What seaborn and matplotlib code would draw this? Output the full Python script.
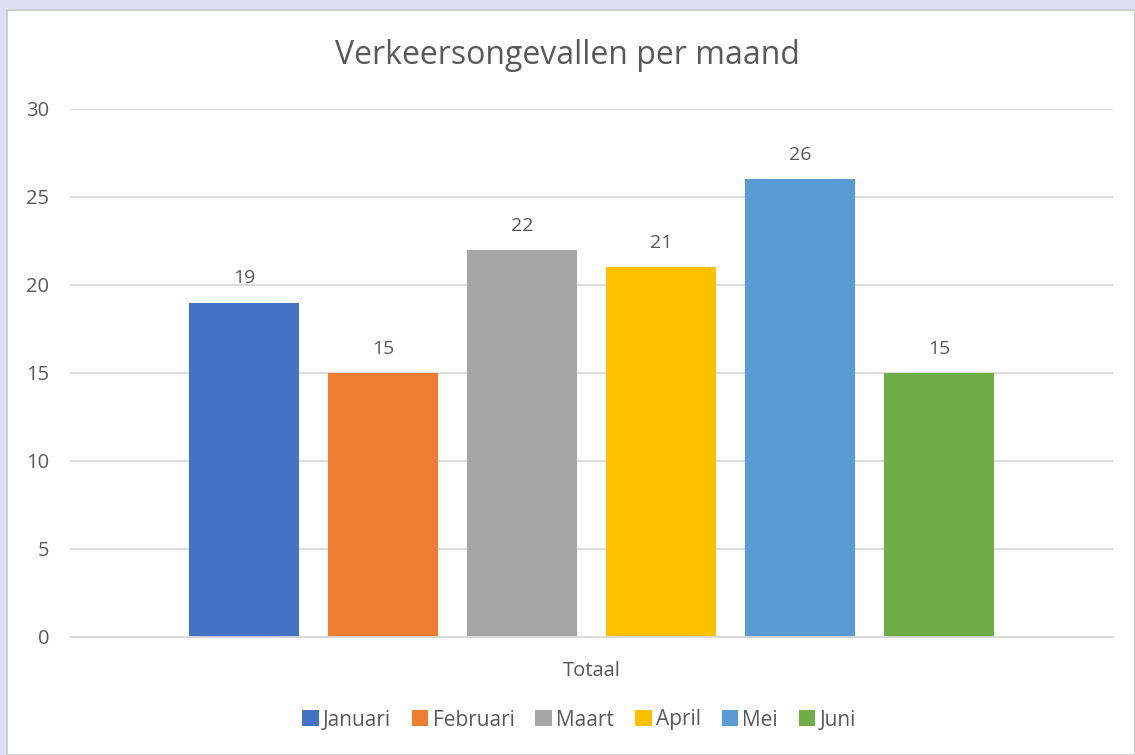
import matplotlib
matplotlib.use("Agg")
import matplotlib.pyplot as plt
import seaborn as sns
import pandas as pd
from matplotlib.patches import Rectangle

categories = ["Totaal"]
months = ["Januari", "Februari", "Maart", "April", "Mei", "Juni"]
values = [19, 15, 22, 21, 26, 15]
colors = ["#4472C4", "#ED7D31", "#A5A5A5", "#FFC000", "#5B9BD5", "#70AD47"]
title = "Verkeersongevallen per maand"
yticks = [0, 5, 10, 15, 20, 25, 30]

df = pd.DataFrame({"cat": categories * len(months), "maand": months, "waarde": values})

sns.set_theme(style="white")
plt.rcParams["font.family"] = ["Open Sans", "DejaVu Sans"]
txt = "#595959"

fig = plt.figure(figsize=(11.35, 7.55), dpi=100)
fig.patch.set_facecolor("#DDDFF7")
fig.patches.append(Rectangle((7 / 1135, 0), 1 - 7 / 1135, 1 - 10 / 755, transform=fig.transFigure,
                             facecolor="white", edgecolor="#D0D0D0", linewidth=1.5, zorder=-5))

ax = fig.add_axes([70 / 1135, 118 / 755, 1043 / 1135, 528 / 755])
ax.set_facecolor("none")
sns.barplot(data=df, x="cat", y="waarde", hue="maand", hue_order=months, palette=colors,
            width=0.8, gap=0.21, saturation=1, linewidth=0, ax=ax, legend=True)
ax.set_xlim(-0.5, 0.5)
ax.set_ylim(0, 30)
ax.set_yticks(yticks)
ax.yaxis.grid(True, color="#D9D9D9", linewidth=1.3)
ax.set_axisbelow(True)
for s in ["top", "right", "left"]:
    ax.spines[s].set_visible(False)
ax.spines["bottom"].set_color("#D9D9D9")
ax.spines["bottom"].set_linewidth(1.3)
ax.tick_params(axis="both", length=0, labelsize=14.5, colors=txt)
ax.tick_params(axis="y", pad=15)
ax.tick_params(axis="x", pad=17)
ax.set_xlabel("")
ax.set_ylabel("")

for cont in ax.containers:
    ax.bar_label(cont, labels=[f"{v:g}" for v in cont.datavalues], padding=11, fontsize=14, color=txt)

fig.text(0.5, 1 - 55 / 755, title, ha="center", va="center", fontsize=23, color=txt)

handles, labels = ax.get_legend_handles_labels()
ax.get_legend().remove()
fig.legend(handles, labels, loc="center", bbox_to_anchor=(579 / 1135, 1 - 720 / 755), ncol=6, frameon=False,
           fontsize=15, labelcolor=txt, handlelength=0.8, handleheight=0.8, handletextpad=0.2,
           columnspacing=1.0)

fig.savefig("out.png", dpi=100)
